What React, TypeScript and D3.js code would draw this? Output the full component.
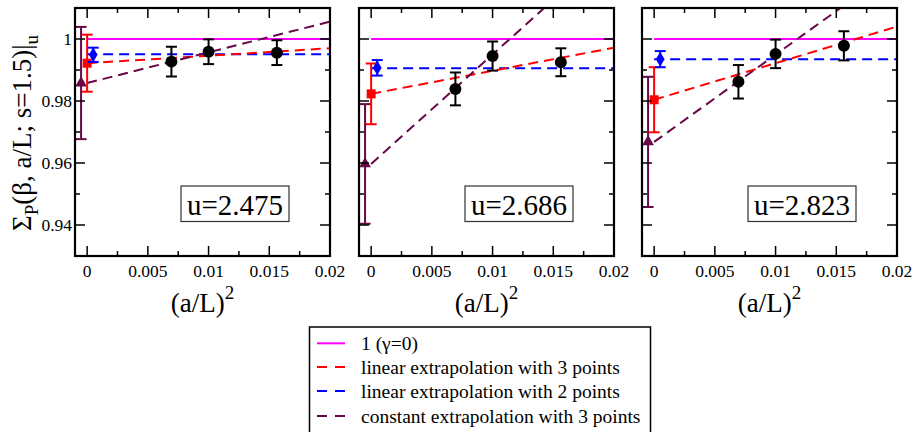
import React from "react";
import * as d3 from "d3";

// ---- data ----
const panelLabels = ["u=2.475", "u=2.686", "u=2.823"];
const simX = [0.00694, 0.01, 0.015625];
const simY = [
  [0.9927, 0.9959, 0.9956],
  [0.9839, 0.9945, 0.9925],
  [0.9862, 0.9952, 0.9978],
];
const simErr = [
  [0.0048, 0.004, 0.004],
  [0.0053, 0.0047, 0.0045],
  [0.0054, 0.0046, 0.0047],
];
// extrapolated values at (a/L)^2 = 0 (drawn slightly offset in x)
const lin3Y = [0.9922, 0.9823, 0.9804];
const lin3Err = [0.0092, 0.0098, 0.0105];
const lin2Y = [0.9949, 0.9907, 0.9935];
const lin2Err = [0.0023, 0.0025, 0.0026];
const constY = [0.9858, 0.9597, 0.9668];
const constErr = [0.0181, 0.0193, 0.021];
const markerX = { lin3: 0, lin2: 0.0005, cst: -0.0005 };
// fit lines: value at x=0 and x=0.02
const lin3Line = [
  [0.9922, 0.997],
  [0.9823, 0.9972],
  [0.9804, 1.004],
];
const lin2Line = [0.9951, 0.9906, 0.9935];
const constLine = [
  [0.9858, 1.0056],
  [0.9597, 1.0303],
  [0.9668, 1.0231],
];
const xMajor = [0, 0.005, 0.01, 0.015, 0.02];
const xMajorLabels = ["0", "0.005", "0.01", "0.015", "0.02"];
const xMinor = [0.0025, 0.0075, 0.0125, 0.0175];
const yMajor = [0.94, 0.96, 0.98, 1];
const yMajorLabels = ["0.94", "0.96", "0.98", "1"];
const yMinor = [0.95, 0.97, 0.99];
const legendLabels = [
  "1 (\u03b3=0)",
  "linear extrapolation with 3 points",
  "linear extrapolation with 2 points",
  "constant extrapolation with 3 points",
];

const MAGENTA = "#ff00ff";
const RED = "#ff0000";
const BLUE = "#0000ff";
const PURPLE = "#670748";
const FONT = "Liberation Serif";

const panelLeft = [75, 359, 642];
const panelW = 255;
const top = 8;
const bottom = 256;

function ErrBar({ x, y0, y1, color, cap = 5.5 }: any) {
  return (
    <g stroke={color} strokeWidth={2}>
      <line x1={x} x2={x} y1={y0} y2={y1} />
      <line x1={x - cap} x2={x + cap} y1={y0} y2={y0} />
      <line x1={x - cap} x2={x + cap} y1={y1} y2={y1} />
    </g>
  );
}

function Panel({ i }: { i: number }) {
  const left = panelLeft[i];
  const x = d3.scaleLinear().domain([-0.001, 0.02]).range([left, left + panelW]);
  const y = d3.scaleLinear().domain([0.93, 1.01]).range([bottom, top]);
  const clipId = `clip${i}`;
  const line = d3
    .line<[number, number]>()
    .x((d) => x(d[0]))
    .y((d) => y(d[1]));
  const dash = "10,6";
  const tri = d3.symbol().type(d3.symbolTriangle).size(60)();
  const dia = d3.symbol().type(d3.symbolDiamond).size(65)();
  const lx = x(markerX.lin3);
  const bx = x(markerX.lin2);
  const cx = x(markerX.cst);
  return (
    <g>
      <defs>
        <clipPath id={clipId}>
          <rect x={left} y={top} width={panelW} height={bottom - top} />
        </clipPath>
      </defs>
      <g clipPath={`url(#${clipId})`} fill="none">
        <path d={line([[0, 1], [0.02, 1]])!} stroke={MAGENTA} strokeWidth={2} />
        <path
          d={line([[0, lin2Line[i]], [0.02, lin2Line[i]]])!}
          stroke={BLUE}
          strokeWidth={2}
          strokeDasharray={dash}
        />
        <path
          d={line([[0, lin3Line[i][0]], [0.02, lin3Line[i][1]]])!}
          stroke={RED}
          strokeWidth={2}
          strokeDasharray={dash}
        />
        <path
          d={line([[0, constLine[i][0]], [0.02, constLine[i][1]]])!}
          stroke={PURPLE}
          strokeWidth={2}
          strokeDasharray={dash}
        />
      </g>
      {/* extrapolated markers */}
      <ErrBar x={cx} y0={y(constY[i] + constErr[i])} y1={y(constY[i] - constErr[i])} color={PURPLE} />
      <path d={tri!} transform={`translate(${cx},${y(constY[i])})`} fill={PURPLE} />
      <ErrBar x={lx} y0={y(lin3Y[i] + lin3Err[i])} y1={y(lin3Y[i] - lin3Err[i])} color={RED} />
      <rect x={lx - 4.5} y={y(lin3Y[i]) - 4.5} width={9} height={9} fill={RED} />
      <ErrBar x={bx} y0={y(lin2Y[i] + lin2Err[i])} y1={y(lin2Y[i] - lin2Err[i])} color={BLUE} />
      <path d={dia!} transform={`translate(${bx},${y(lin2Y[i])})`} fill={BLUE} />
      {/* simulation points */}
      {simX.map((sx, k) => (
        <g key={k}>
          <ErrBar
            x={x(sx)}
            y0={y(simY[i][k] + simErr[i][k])}
            y1={y(simY[i][k] - simErr[i][k])}
            color="#000"
          />
          <circle cx={x(sx)} cy={y(simY[i][k])} r={6} fill="#000" />
        </g>
      ))}
      {/* ticks */}
      <g stroke="#000" strokeWidth={1.5}>
        {xMajor.map((t) => (
          <g key={"xm" + t}>
            <line x1={x(t)} x2={x(t)} y1={bottom} y2={bottom - 10} />
            <line x1={x(t)} x2={x(t)} y1={top} y2={top + 10} />
          </g>
        ))}
        {xMinor.map((t) => (
          <g key={"xn" + t}>
            <line x1={x(t)} x2={x(t)} y1={bottom} y2={bottom - 5} />
            <line x1={x(t)} x2={x(t)} y1={top} y2={top + 5} />
          </g>
        ))}
        {yMajor.map((t) => (
          <g key={"ym" + t}>
            <line x1={left} x2={left + 10} y1={y(t)} y2={y(t)} />
            <line x1={left + panelW} x2={left + panelW - 10} y1={y(t)} y2={y(t)} />
          </g>
        ))}
        {yMinor.map((t) => (
          <g key={"yn" + t}>
            <line x1={left} x2={left + 5} y1={y(t)} y2={y(t)} />
            <line x1={left + panelW} x2={left + panelW - 5} y1={y(t)} y2={y(t)} />
          </g>
        ))}
      </g>
      <rect x={left} y={top} width={panelW} height={bottom - top} fill="none" stroke="#000" strokeWidth={2.2} />
      {/* tick labels */}
      {xMajor.map((t, k) => (
        <text key={"xl" + t} x={x(t)} y={277} textAnchor="middle" fontSize={17.5} fontFamily={FONT}>
          {xMajorLabels[k]}
        </text>
      ))}
      {i === 0 &&
        yMajor.map((t, k) => (
          <text key={"yl" + t} x={72} y={y(t) + 6} textAnchor="end" fontSize={17.5} fontFamily={FONT}>
            {yMajorLabels[k]}
          </text>
        ))}
      {/* x label */}
      <text x={left + panelW / 2} y={312} textAnchor="middle" fontSize={27} fontFamily={FONT}>
        (a/L)
        <tspan fontSize={19} dy={-13}>
          2
        </tspan>
      </text>
      {/* u box */}
      <rect
        x={left + panelW - 149}
        y={186}
        width={108}
        height={35.5}
        fill="#fff"
        stroke="#333"
        strokeWidth={1.2}
      />
      <text x={left + panelW - 95} y={215} textAnchor="middle" fontSize={29} fontFamily={FONT}>
        {panelLabels[i]}
      </text>
    </g>
  );
}

export default function App() {
  const legendColors = [MAGENTA, RED, BLUE, PURPLE];
  const rowY = [343.3, 367, 391, 416];
  return (
    <svg
      width={915}
      height={432}
      style={{ position: "absolute", left: 0, top: 0, background: "#fff" }}
      xmlns="http://www.w3.org/2000/svg"
    >
      <rect width={915} height={432} fill="#fff" />
      {[0, 1, 2].map((i) => (
        <Panel key={i} i={i} />
      ))}
      {/* y label */}
      <text
        transform="translate(31,133) rotate(-90)"
        textAnchor="middle"
        fontSize={27}
        fontFamily={FONT}
      >
        Σ<tspan fontSize={19} dy={7}>P</tspan>
        <tspan dy={-7}>(β, a/L; s=1.5)|</tspan>
        <tspan fontSize={19} dy={7}>u</tspan>
      </text>
      {/* legend */}
      <rect x={309.5} y={327} width={341} height={120} fill="#fff" stroke="#000" strokeWidth={1.5} />
      {legendLabels.map((lab, k) => (
        <g key={lab}>
          <line
            x1={317}
            x2={345}
            y1={rowY[k]}
            y2={rowY[k]}
            stroke={legendColors[k]}
            strokeWidth={2}
            strokeDasharray={k === 0 ? undefined : "10,8"}
          />
          <text x={361} y={rowY[k] + 6.5} fontSize={19.5} fontFamily={FONT}>
            {lab}
          </text>
        </g>
      ))}
    </svg>
  );
}
